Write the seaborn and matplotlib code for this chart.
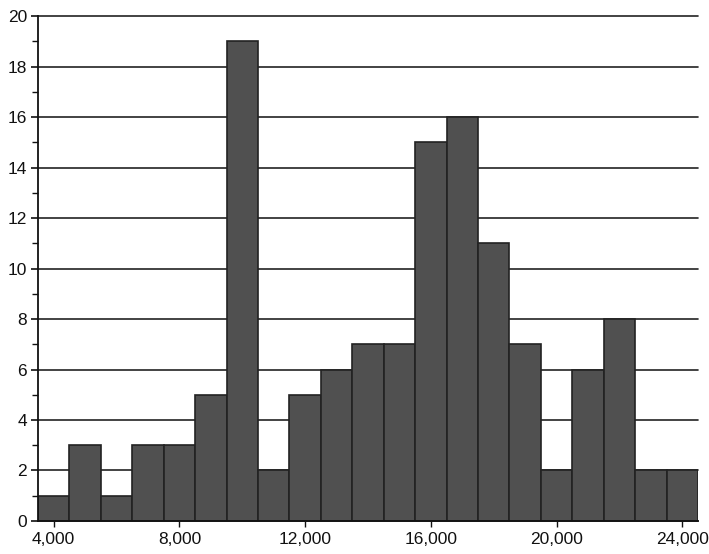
import matplotlib
matplotlib.use("Agg")
import matplotlib.pyplot as plt
from matplotlib.ticker import MultipleLocator, FuncFormatter
import numpy as np
import pandas as pd
import seaborn as sns

# bin centres and counts
bin_centers = [4000, 5000, 6000, 7000, 8000, 9000, 10000, 11000, 12000, 13000, 14000,
               15000, 16000, 17000, 18000, 19000, 20000, 21000, 22000, 23000, 24000]
counts = [1, 3, 1, 3, 3, 5, 19, 2, 5, 6, 7, 7, 15, 16, 11, 7, 2, 6, 8, 2, 2]
x_ticks = [4000, 8000, 12000, 16000, 20000, 24000]
y_ticks = [0, 2, 4, 6, 8, 10, 12, 14, 16, 18, 20]

df = pd.DataFrame({"value": bin_centers, "count": counts})

sns.set_theme(style="white")
plt.rcParams["font.family"] = ["Liberation Sans", "DejaVu Sans"]

fig = plt.figure(figsize=(7.09, 5.54), dpi=100)
ax = fig.add_axes([0.0536, 0.0596, 0.9309, 0.9114])

ax.set_axisbelow(True)
ax.yaxis.grid(True, color="#222222", linewidth=1.2)
ax.xaxis.grid(False)

sns.histplot(data=df, x="value", weights="count", binwidth=1000, binrange=(3500, 24500),
             color="#505050", edgecolor="#222222", linewidth=1.2, alpha=1.0, ax=ax)

ax.set_xlim(3500, 24500)
ax.set_ylim(0, 20)
ax.set_xticks(x_ticks)
ax.set_yticks(y_ticks)
ax.yaxis.set_minor_locator(MultipleLocator(1))
ax.xaxis.set_major_formatter(FuncFormatter(lambda v, p: f"{int(v):,}"))
ax.set_xlabel("")
ax.set_ylabel("")

for line in ax.get_ygridlines():
    line.set_clip_on(False)

for side in ["top", "right"]:
    ax.spines[side].set_visible(False)
for side in ["left", "bottom"]:
    ax.spines[side].set_color("#111111")
    ax.spines[side].set_linewidth(1.3)

ax.tick_params(axis="y", which="major", direction="out", length=5, width=1.2,
               color="#111111", labelsize=12.5, labelcolor="#111111", pad=3, left=True)
ax.tick_params(axis="y", which="minor", direction="out", length=4, width=1.0,
               color="#111111", left=True)
ax.tick_params(axis="x", which="major", direction="out", length=4, width=1.0,
               color="#111111", labelsize=12.5, labelcolor="#111111", pad=4, bottom=True)

fig.savefig("out.png", dpi=100)
